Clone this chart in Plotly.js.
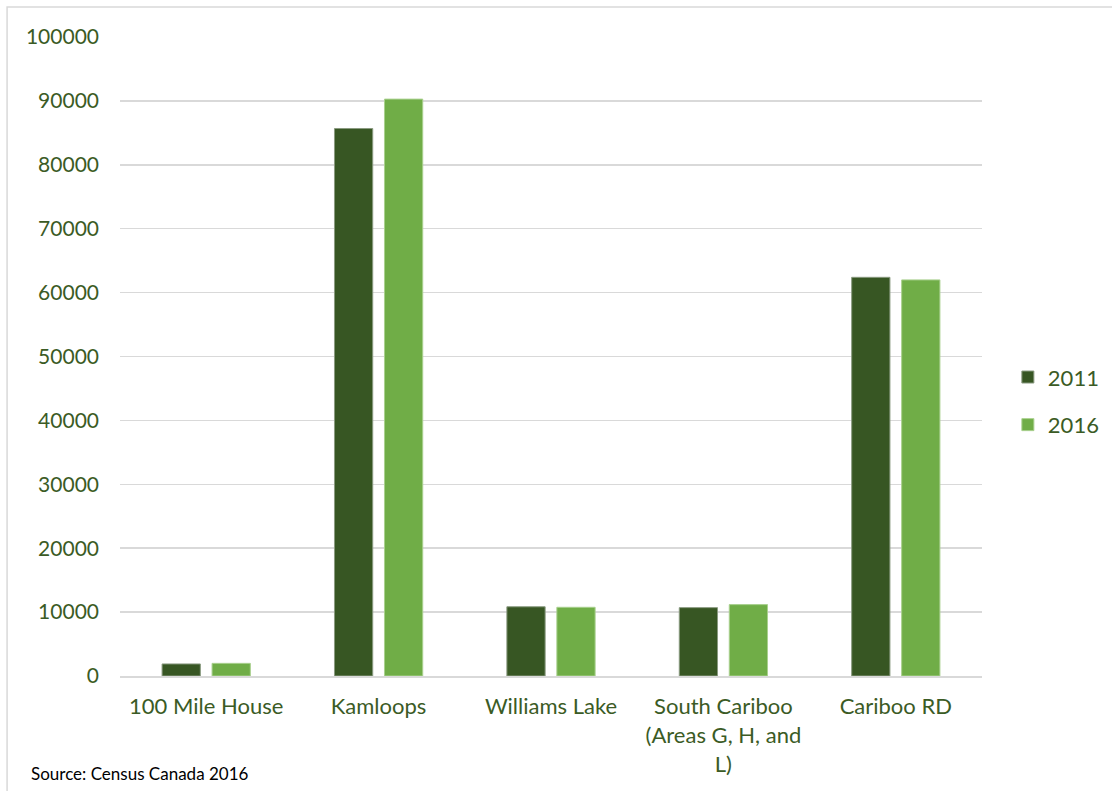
<!DOCTYPE html>
<html>
<head>
<meta charset="utf-8">
<script src="https://cdn.plot.ly/plotly-3.0.1.min.js"></script>
<style>
html,body{margin:0;padding:0;background:#fff;}
#chart{width:1112px;height:791px;}
</style>
</head>
<body>
<div id="chart"></div>
<script>
const categories = ["100 Mile House", "Kamloops", "Williams Lake", "South Cariboo<br>(Areas G, H, and<br>L)", "Cariboo RD"];
const values2011 = [1886, 85678, 10832, 10700, 62392];
const values2016 = [1980, 90280, 10753, 11170, 61988];
const seriesNames = ["2011", "2016"];
const sourceText = "Source: Census Canada 2016";

const textColor = "#3B5B25";
const fontFam = "Lato, 'Open Sans', sans-serif";

const traces = [
  {
    type: "bar", name: seriesNames[0], x: categories, y: values2011,
    marker: {color: "#375623", line: {color: "#8a9a80", width: 1}},
    legendgroup: "a", hoverinfo: "x+y"
  },
  {
    type: "bar", name: seriesNames[1], x: categories, y: values2016,
    marker: {color: "#70AD47", line: {color: "#a9d08e", width: 1}},
    legendgroup: "b", hoverinfo: "x+y"
  }
];

const layout = {
  width: 1112, height: 791,
  margin: {l: 120, r: 130, t: 37, b: 115, autoexpand: false},
  paper_bgcolor: "#fff", plot_bgcolor: "#fff",
  font: {family: fontFam, size: 21, color: textColor},
  barmode: "group", bargap: 0.42, bargroupgap: 0.235,
  xaxis: {
    showgrid: false, zeroline: false, showline: true,
    linecolor: "#d9d9d9", linewidth: 2,
    tickfont: {family: fontFam, size: 22, color: textColor},
    ticks: "", ticklabelstandoff: 10, automargin: false
  },
  yaxis: {
    range: [0, 100000], dtick: 10000, showgrid: true,
    gridcolor: "#d9d9d9", gridwidth: 1.5, zeroline: false,
    tickformat: "d", ticks: "", ticklabelstandoff: 20,
    tickfont: {family: fontFam, size: 21, color: textColor},
    automargin: false
  },
  legend: {
    x: 1.03, xanchor: "left", y: 0.43, yanchor: "middle",
    traceorder: "grouped", tracegroupgap: 16,
    font: {family: fontFam, size: 22, color: textColor},
    bgcolor: "rgba(0,0,0,0)"
  },
  showlegend: true,
  shapes: [
    {type: "rect", xref: "paper", yref: "paper",
     x0: -0.131, x1: 1.2, y0: -0.3, y1: 1.047,
     line: {color: "#d9d9d9", width: 1.5}, fillcolor: "rgba(0,0,0,0)", layer: "below"}
  ],
  annotations: [
    {xref: "paper", yref: "paper", x: -0.106, y: -0.152,
     xanchor: "left", yanchor: "middle", showarrow: false,
     text: sourceText, font: {family: fontFam, size: 17, color: "#000"}}
  ]
};

Plotly.newPlot("chart", traces, layout, {displayModeBar: false, staticPlot: true});
</script>
</body>
</html>
